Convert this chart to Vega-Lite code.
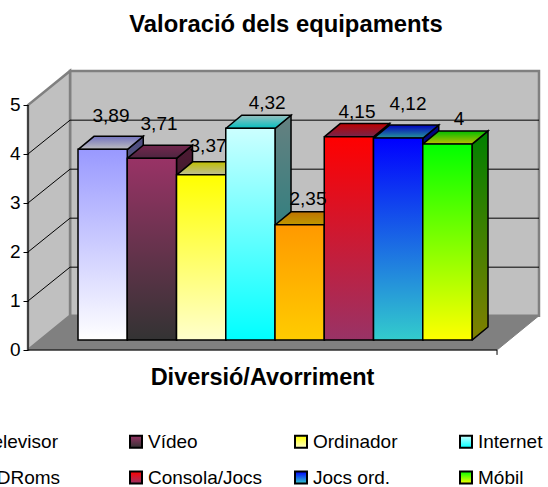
{
"$schema":"https://vega.github.io/schema/vega-lite/v6.json",
"width":548,"height":437,
"autosize":{"type":"none"},
"padding":{"left":0,"top":50,"right":0,"bottom":0},
"background":"white",
"title":{"text":"Valoració dels equipaments","font":"Liberation Sans","fontSize":23.8,"fontWeight":"bold","color":"black","anchor":"middle","offset":13,"dx":12},
"config":{"view":{"stroke":null},"font":"Liberation Sans"},
"datasets":{
"valors":[
{"equipament":"Televisor","valor":3.89,"etiqueta":"3,89","x":1,"x2":2,"xe":1.67,"ye":4.776},
{"equipament":"Vídeo","valor":3.71,"etiqueta":"3,71","x":2,"x2":3,"xe":2.645,"ye":4.612},
{"equipament":"Ordinador","valor":3.37,"etiqueta":"3,37","x":3,"x2":4,"xe":3.64,"ye":4.163},
{"equipament":"Internet","valor":4.32,"etiqueta":"4,32","x":4,"x2":5,"xe":4.84,"ye":5.041},
{"equipament":"CDRoms","valor":2.35,"etiqueta":"2,35","x":5,"x2":6,"xe":5.67,"ye":3.082},
{"equipament":"Consola/Jocs","valor":4.15,"etiqueta":"4,15","x":6,"x2":7,"xe":6.665,"ye":4.857},
{"equipament":"Jocs ord.","valor":4.12,"etiqueta":"4,12","x":7,"x2":8,"xe":7.7,"ye":5.02},
{"equipament":"Móbil","valor":4,"etiqueta":"4","x":8,"x2":9,"xe":8.736,"ye":4.714}
],
"parets":[
{"paret":"fons","ordre":0,"x":0.838,"y":0.7},{"paret":"fons","ordre":1,"x":0.838,"y":5.694},{"paret":"fons","ordre":2,"x":10.36,"y":5.694},{"paret":"fons","ordre":3,"x":10.36,"y":0.7},{"paret":"fons","ordre":4,"x":0.838,"y":0.7},
{"paret":"lateral","ordre":0,"x":-0.015,"y":0},{"paret":"lateral","ordre":1,"x":-0.015,"y":5},{"paret":"lateral","ordre":2,"x":0.838,"y":5.694},{"paret":"lateral","ordre":3,"x":0.838,"y":0.7},{"paret":"lateral","ordre":4,"x":-0.015,"y":0},
{"paret":"terra","ordre":0,"x":-0.015,"y":0},{"paret":"terra","ordre":1,"x":9.508,"y":0},{"paret":"terra","ordre":2,"x":10.36,"y":0.7},{"paret":"terra","ordre":3,"x":0.838,"y":0.7},{"paret":"terra","ordre":4,"x":-0.015,"y":0}
],
"linies":[
{"linia":"1","ordre":0,"x":-0.015,"y":1},{"linia":"1","ordre":1,"x":0.838,"y":1.69},{"linia":"1","ordre":2,"x":10.36,"y":1.69},
{"linia":"2","ordre":0,"x":-0.015,"y":2},{"linia":"2","ordre":1,"x":0.838,"y":2.69},{"linia":"2","ordre":2,"x":10.36,"y":2.69},
{"linia":"3","ordre":0,"x":-0.015,"y":3},{"linia":"3","ordre":1,"x":0.838,"y":3.69},{"linia":"3","ordre":2,"x":10.36,"y":3.69},
{"linia":"4","ordre":0,"x":-0.015,"y":4},{"linia":"4","ordre":1,"x":0.838,"y":4.69},{"linia":"4","ordre":2,"x":10.36,"y":4.69},
{"linia":"eix","ordre":0,"x":-0.015,"y":5},{"linia":"eix","ordre":1,"x":-0.015,"y":0},{"linia":"eix","ordre":2,"x":9.508,"y":0},{"linia":"eix","ordre":3,"x":9.508,"y":-0.1}
],
"laterals":[
{"equipament":"Televisor","ordre":0,"x":2,"y":0.2},{"equipament":"Televisor","ordre":1,"x":2,"y":4.09},{"equipament":"Televisor","ordre":2,"x":2.325,"y":4.36},{"equipament":"Televisor","ordre":3,"x":2.325,"y":0.47},{"equipament":"Televisor","ordre":4,"x":2,"y":0.2},
{"equipament":"Vídeo","ordre":0,"x":3,"y":0.2},{"equipament":"Vídeo","ordre":1,"x":3,"y":3.91},{"equipament":"Vídeo","ordre":2,"x":3.325,"y":4.18},{"equipament":"Vídeo","ordre":3,"x":3.325,"y":0.47},{"equipament":"Vídeo","ordre":4,"x":3,"y":0.2},
{"equipament":"Ordinador","ordre":0,"x":4,"y":0.2},{"equipament":"Ordinador","ordre":1,"x":4,"y":3.57},{"equipament":"Ordinador","ordre":2,"x":4.325,"y":3.84},{"equipament":"Ordinador","ordre":3,"x":4.325,"y":0.47},{"equipament":"Ordinador","ordre":4,"x":4,"y":0.2},
{"equipament":"Internet","ordre":0,"x":5,"y":0.2},{"equipament":"Internet","ordre":1,"x":5,"y":4.52},{"equipament":"Internet","ordre":2,"x":5.325,"y":4.79},{"equipament":"Internet","ordre":3,"x":5.325,"y":0.47},{"equipament":"Internet","ordre":4,"x":5,"y":0.2},
{"equipament":"CDRoms","ordre":0,"x":6,"y":0.2},{"equipament":"CDRoms","ordre":1,"x":6,"y":2.55},{"equipament":"CDRoms","ordre":2,"x":6.325,"y":2.82},{"equipament":"CDRoms","ordre":3,"x":6.325,"y":0.47},{"equipament":"CDRoms","ordre":4,"x":6,"y":0.2},
{"equipament":"Consola/Jocs","ordre":0,"x":7,"y":0.2},{"equipament":"Consola/Jocs","ordre":1,"x":7,"y":4.35},{"equipament":"Consola/Jocs","ordre":2,"x":7.325,"y":4.62},{"equipament":"Consola/Jocs","ordre":3,"x":7.325,"y":0.47},{"equipament":"Consola/Jocs","ordre":4,"x":7,"y":0.2},
{"equipament":"Jocs ord.","ordre":0,"x":8,"y":0.2},{"equipament":"Jocs ord.","ordre":1,"x":8,"y":4.32},{"equipament":"Jocs ord.","ordre":2,"x":8.325,"y":4.59},{"equipament":"Jocs ord.","ordre":3,"x":8.325,"y":0.47},{"equipament":"Jocs ord.","ordre":4,"x":8,"y":0.2},
{"equipament":"Móbil","ordre":0,"x":9,"y":0.2},{"equipament":"Móbil","ordre":1,"x":9,"y":4.2},{"equipament":"Móbil","ordre":2,"x":9.325,"y":4.47},{"equipament":"Móbil","ordre":3,"x":9.325,"y":0.47},{"equipament":"Móbil","ordre":4,"x":9,"y":0.2}
],
"superiors":[
{"equipament":"Televisor","ordre":0,"x":1,"y":4.09},{"equipament":"Televisor","ordre":1,"x":2,"y":4.09},{"equipament":"Televisor","ordre":2,"x":2.325,"y":4.36},{"equipament":"Televisor","ordre":3,"x":1.325,"y":4.36},{"equipament":"Televisor","ordre":4,"x":1,"y":4.09},
{"equipament":"Vídeo","ordre":0,"x":2,"y":3.91},{"equipament":"Vídeo","ordre":1,"x":3,"y":3.91},{"equipament":"Vídeo","ordre":2,"x":3.325,"y":4.18},{"equipament":"Vídeo","ordre":3,"x":2.325,"y":4.18},{"equipament":"Vídeo","ordre":4,"x":2,"y":3.91},
{"equipament":"Ordinador","ordre":0,"x":3,"y":3.57},{"equipament":"Ordinador","ordre":1,"x":4,"y":3.57},{"equipament":"Ordinador","ordre":2,"x":4.325,"y":3.84},{"equipament":"Ordinador","ordre":3,"x":3.325,"y":3.84},{"equipament":"Ordinador","ordre":4,"x":3,"y":3.57},
{"equipament":"Internet","ordre":0,"x":4,"y":4.52},{"equipament":"Internet","ordre":1,"x":5,"y":4.52},{"equipament":"Internet","ordre":2,"x":5.325,"y":4.79},{"equipament":"Internet","ordre":3,"x":4.325,"y":4.79},{"equipament":"Internet","ordre":4,"x":4,"y":4.52},
{"equipament":"CDRoms","ordre":0,"x":5,"y":2.55},{"equipament":"CDRoms","ordre":1,"x":6,"y":2.55},{"equipament":"CDRoms","ordre":2,"x":6.325,"y":2.82},{"equipament":"CDRoms","ordre":3,"x":5.325,"y":2.82},{"equipament":"CDRoms","ordre":4,"x":5,"y":2.55},
{"equipament":"Consola/Jocs","ordre":0,"x":6,"y":4.35},{"equipament":"Consola/Jocs","ordre":1,"x":7,"y":4.35},{"equipament":"Consola/Jocs","ordre":2,"x":7.325,"y":4.62},{"equipament":"Consola/Jocs","ordre":3,"x":6.325,"y":4.62},{"equipament":"Consola/Jocs","ordre":4,"x":6,"y":4.35},
{"equipament":"Jocs ord.","ordre":0,"x":7,"y":4.32},{"equipament":"Jocs ord.","ordre":1,"x":8,"y":4.32},{"equipament":"Jocs ord.","ordre":2,"x":8.325,"y":4.59},{"equipament":"Jocs ord.","ordre":3,"x":7.325,"y":4.59},{"equipament":"Jocs ord.","ordre":4,"x":7,"y":4.32},
{"equipament":"Móbil","ordre":0,"x":8,"y":4.2},{"equipament":"Móbil","ordre":1,"x":9,"y":4.2},{"equipament":"Móbil","ordre":2,"x":9.325,"y":4.47},{"equipament":"Móbil","ordre":3,"x":8.325,"y":4.47},{"equipament":"Móbil","ordre":4,"x":8,"y":4.2}
]
},
"encoding":{
"x":{"field":"x","type":"quantitative","scale":{"domain":[-0.584,10.543],"nice":false,"zero":false},
 "axis":{"title":"Diversió/Avorriment","titleFont":"Liberation Sans","titleFontSize":23.5,"titleFontWeight":"bold","titleColor":"black","offset":-137,"domain":false,"ticks":false,"labels":false,"grid":false,"titleX":262,"titlePadding":15}},
"y":{"field":"y","type":"quantitative","scale":{"domain":[-2.796,6.122],"nice":false,"zero":false},
 "axis":{"title":null,"offset":-28,"values":[0,1,2,3,4,5],"format":"d","labelFont":"Liberation Sans","labelFontSize":19,"labelColor":"black","labelPadding":3,"tickColor":"black","tickSize":5,"domain":false,"grid":false,"zindex":1}}
},
"layer":[
{"data":{"name":"parets"},"transform":[{"filter":"datum.paret!='terra'"}],
 "mark":{"type":"line","fill":"#c0c0c0","stroke":"#808080","strokeWidth":2.5},
 "encoding":{"detail":{"field":"paret"},"order":{"field":"ordre","type":"quantitative"}}},
{"data":{"name":"parets"},"transform":[{"filter":"datum.paret=='terra'"}],
 "mark":{"type":"line","fill":"#808080","stroke":"#808080","strokeWidth":1},
 "encoding":{"detail":{"field":"paret"},"order":{"field":"ordre","type":"quantitative"}}},
{"data":{"name":"linies"},
 "mark":{"type":"line","stroke":"black","strokeWidth":1},
 "encoding":{"detail":{"field":"linia"},"order":{"field":"ordre","type":"quantitative"}}},
{"data":{"name":"laterals"},
 "mark":{"type":"line","stroke":"black","strokeWidth":1.5},
 "encoding":{"order":{"field":"ordre","type":"quantitative"},
 "fill":{"field":"equipament","type":"nominal","legend":null,"scale":{"domain":["Televisor","Vídeo","Ordinador","Internet","CDRoms","Consola/Jocs","Jocs ord.","Móbil"],
 "range":[
 {"expr":"{gradient:'linear',x1:0,y1:0,x2:0,y2:1,stops:[{offset:0,color:'#4d4d80'},{offset:1,color:'#808080'}]}"},
 {"expr":"{gradient:'linear',x1:0,y1:0,x2:0,y2:1,stops:[{offset:0,color:'#4d1a33'},{offset:1,color:'#1a1a1a'}]}"},
 {"expr":"{gradient:'linear',x1:0,y1:0,x2:0,y2:1,stops:[{offset:0,color:'#808000'},{offset:1,color:'#808066'}]}"},
 {"expr":"{gradient:'linear',x1:0,y1:0,x2:0,y2:1,stops:[{offset:0,color:'#668080'},{offset:1,color:'#008080'}]}"},
 {"expr":"{gradient:'linear',x1:0,y1:0,x2:0,y2:1,stops:[{offset:0,color:'#804d00'},{offset:1,color:'#806600'}]}"},
 {"expr":"{gradient:'linear',x1:0,y1:0,x2:0,y2:1,stops:[{offset:0,color:'#800000'},{offset:1,color:'#4d1a33'}]}"},
 {"expr":"{gradient:'linear',x1:0,y1:0,x2:0,y2:1,stops:[{offset:0,color:'#000080'},{offset:1,color:'#1a6666'}]}"},
 {"expr":"{gradient:'linear',x1:0,y1:0,x2:0,y2:1,stops:[{offset:0,color:'#008000'},{offset:1,color:'#808000'}]}"}
 ]}}}},
{"data":{"name":"superiors"},
 "mark":{"type":"line","stroke":"black","strokeWidth":1.5},
 "encoding":{"order":{"field":"ordre","type":"quantitative"},
 "fill":{"field":"equipament","type":"nominal","legend":null,"scale":{"domain":["Televisor","Vídeo","Ordinador","Internet","CDRoms","Consola/Jocs","Jocs ord.","Móbil"],
 "range":[
 {"expr":"{gradient:'linear',x1:0,y1:0,x2:0,y2:1,stops:[{offset:0,color:'#7373bf'},{offset:1,color:'#bfbfbf'}]}"},
 {"expr":"{gradient:'linear',x1:0,y1:0,x2:0,y2:1,stops:[{offset:0,color:'#73264d'},{offset:1,color:'#4d2640'}]}"},
 {"expr":"{gradient:'linear',x1:0,y1:0,x2:0,y2:1,stops:[{offset:0,color:'#bfbf00'},{offset:1,color:'#bfbf99'}]}"},
 {"expr":"{gradient:'linear',x1:0,y1:0,x2:0,y2:1,stops:[{offset:0,color:'#99bfbf'},{offset:1,color:'#00bfbf'}]}"},
 {"expr":"{gradient:'linear',x1:0,y1:0,x2:0,y2:1,stops:[{offset:0,color:'#bf7300'},{offset:1,color:'#bf9900'}]}"},
 {"expr":"{gradient:'linear',x1:0,y1:0,x2:0,y2:1,stops:[{offset:0,color:'#bf0000'},{offset:1,color:'#73264d'}]}"},
 {"expr":"{gradient:'linear',x1:0,y1:0,x2:0,y2:1,stops:[{offset:0,color:'#0000bf'},{offset:1,color:'#269999'}]}"},
 {"expr":"{gradient:'linear',x1:0,y1:0,x2:0,y2:1,stops:[{offset:0,color:'#00bf00'},{offset:1,color:'#bfbf00'}]}"}
 ]}}}},
{"data":{"name":"valors"},
 "mark":{"type":"rect","stroke":"black","strokeWidth":1.5,"yOffset":-10,"y2Offset":-10},
 "encoding":{"x":{"field":"x","type":"quantitative"},"x2":{"field":"x2"},
 "y":{"field":"valor","type":"quantitative"},"y2":{"datum":0},
 "fill":{"field":"equipament","type":"nominal",
 "legend":{"title":null,"orient":"none","legendX":-38.5,"legendY":382,"direction":"horizontal","columns":4,"gridAlign":"all","symbolType":"square","symbolSize":144,"symbolStrokeColor":"black","symbolStrokeWidth":2,"labelFont":"Liberation Sans","labelFontSize":19,"labelColor":"black","labelLimit":200,"labelOffset":2.5,"rowPadding":15,"columnPadding":28,"padding":0},
 "scale":{"domain":["Televisor","Vídeo","Ordinador","Internet","CDRoms","Consola/Jocs","Jocs ord.","Móbil"],
 "range":[
 {"expr":"{gradient:'linear',x1:0,y1:0,x2:0,y2:1,stops:[{offset:0,color:'#9999ff'},{offset:1,color:'#ffffff'}]}"},
 {"expr":"{gradient:'linear',x1:0,y1:0,x2:0,y2:1,stops:[{offset:0,color:'#993366'},{offset:1,color:'#333333'}]}"},
 {"expr":"{gradient:'linear',x1:0,y1:0,x2:0,y2:1,stops:[{offset:0,color:'#ffff00'},{offset:1,color:'#ffffcc'}]}"},
 {"expr":"{gradient:'linear',x1:0,y1:0,x2:0,y2:1,stops:[{offset:0,color:'#ccffff'},{offset:1,color:'#00ffff'}]}"},
 {"expr":"{gradient:'linear',x1:0,y1:0,x2:0,y2:1,stops:[{offset:0,color:'#ff9900'},{offset:1,color:'#ffcc00'}]}"},
 {"expr":"{gradient:'linear',x1:0,y1:0,x2:0,y2:1,stops:[{offset:0,color:'#ff0000'},{offset:1,color:'#993366'}]}"},
 {"expr":"{gradient:'linear',x1:0,y1:0,x2:0,y2:1,stops:[{offset:0,color:'#0000ff'},{offset:1,color:'#33cccc'}]}"},
 {"expr":"{gradient:'linear',x1:0,y1:0,x2:0,y2:1,stops:[{offset:0,color:'#00ff00'},{offset:1,color:'#ffff00'}]}"}
 ]}}}},
{"data":{"name":"valors"},
 "mark":{"type":"text","font":"Liberation Sans","fontSize":19,"color":"black","baseline":"middle","align":"center"},
 "encoding":{"x":{"field":"xe","type":"quantitative"},"y":{"field":"ye","type":"quantitative"},"text":{"field":"etiqueta"}}}
],
"resolve":{"scale":{"fill":"independent"}}
}
